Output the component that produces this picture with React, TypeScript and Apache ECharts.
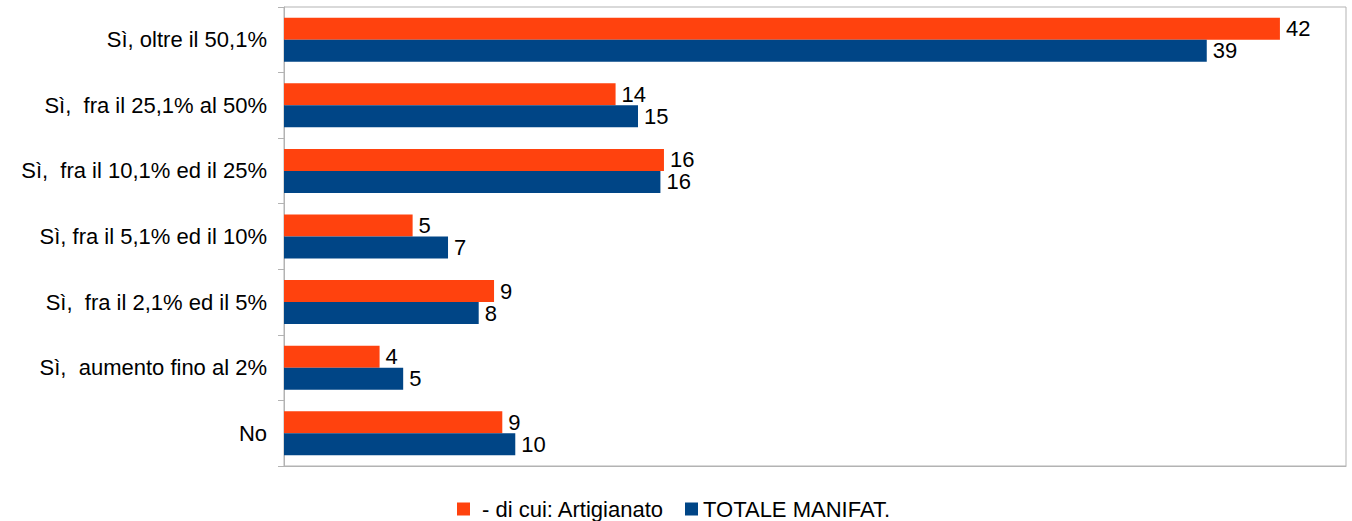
import React, { useEffect, useRef } from "react";
import * as echarts from "echarts";

const categories = [
  "Sì, oltre il 50,1%",
  "Sì,  fra il 25,1% al 50%",
  "Sì,  fra il 10,1% ed il 25%",
  "Sì, fra il 5,1% ed il 10%",
  "Sì,  fra il 2,1% ed il 5%",
  "Sì,  aumento fino al 2%",
  "No",
];
const artigianato = [42.2, 14.05, 16.1, 5.45, 8.9, 4.05, 9.25];
const totaleManifat = [39.1, 15.0, 15.95, 6.95, 8.25, 5.05, 9.8];
const seriesNames = ["- di cui: Artigianato", "TOTALE MANIFAT."];

const FONT = "'Liberation Sans', Arial, sans-serif";
const FS = 22;

export default function App() {
  const ref = useRef<HTMLDivElement>(null);
  useEffect(() => {
    if (!ref.current) return;
    const chart = echarts.init(ref.current, undefined, { renderer: "svg" });
    const label = {
      show: true,
      position: "right" as const,
      distance: 6,
      color: "#000",
      fontSize: FS,
      lineHeight: 20,
      fontFamily: FONT,
      formatter: (p: any) => String(Math.round(p.value)),
    };
    const legendBase = {
      top: 498,
      icon: "rect",
      itemWidth: 13,
      itemHeight: 13,
      padding: 0,
    };
    chart.setOption({
      animation: false,
      backgroundColor: "#fff",
      textStyle: { fontFamily: FONT },
      grid: {
        left: 284,
        right: 6,
        top: 7,
        bottom: 55,
        show: true,
        borderColor: "#b3b3b3",
        borderWidth: 1,
        containLabel: false,
      },
      legend: [
        {
          ...legendBase,
          left: 457,
          textStyle: { color: "#000", fontSize: FS, fontFamily: FONT, padding: [0, 0, 0, 7] },
          data: [seriesNames[0]],
        },
        {
          ...legendBase,
          left: 685,
          textStyle: { color: "#000", fontSize: FS, fontFamily: FONT, padding: [0, 0, 0, 0] },
          data: [seriesNames[1]],
        },
      ],
      xAxis: {
        type: "value",
        min: 0,
        max: 45,
        axisLabel: { show: false },
        axisTick: { show: false },
        axisLine: { show: true, lineStyle: { color: "#b3b3b3" } },
        splitLine: { show: false },
      },
      yAxis: {
        type: "category",
        inverse: true,
        data: categories,
        axisLine: { show: true, lineStyle: { color: "#b3b3b3" } },
        axisTick: { show: true, length: 6, lineStyle: { color: "#b3b3b3" } },
        axisLabel: { color: "#000", fontSize: FS, fontFamily: FONT, margin: 17 },
      },
      series: [
        {
          name: seriesNames[0],
          type: "bar",
          data: artigianato,
          barWidth: 22,
          barGap: "0%",
          itemStyle: { color: "#ff420e" },
          label,
        },
        {
          name: seriesNames[1],
          type: "bar",
          data: totaleManifat,
          barWidth: 22,
          barGap: "0%",
          itemStyle: { color: "#004586" },
          label,
        },
      ],
    });
    return () => chart.dispose();
  }, []);
  return (
    <div
      ref={ref}
      style={{ position: "fixed", left: 0, top: 0, width: 1352, height: 521, background: "#fff" }}
    />
  );
}
